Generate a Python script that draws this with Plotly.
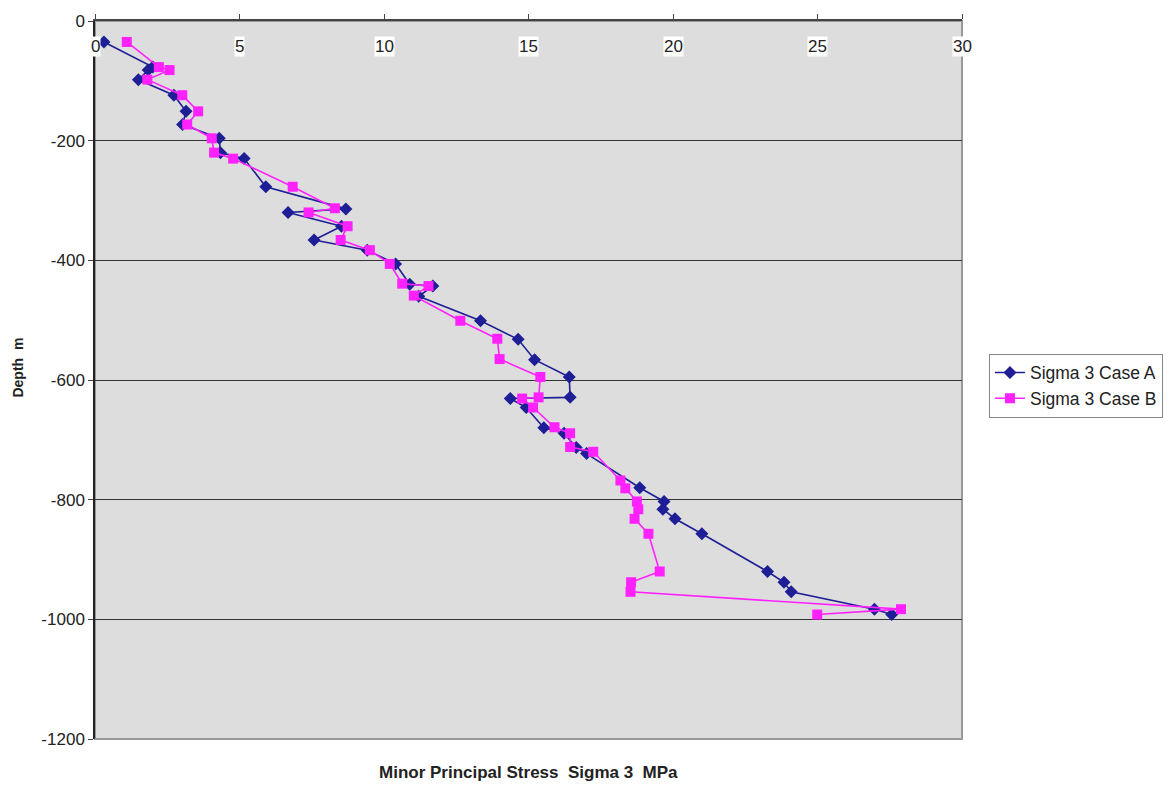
import plotly.graph_objects as go

# Minor principal stress profiles (MPa) against depth (m)
depth_a = [-35, -77, -82, -98, -124, -151, -173, -196, -220, -230, -277, -314, -320,
           -343, -366, -383, -406, -440, -443, -460, -501, -532, -566, -595, -629,
           -631, -646, -680, -689, -713, -723, -780, -803, -816, -832, -857, -920,
           -938, -954, -983, -992]
sigma3_a = [0.31, 2.0, 1.84, 1.50, 2.73, 3.15, 3.03, 4.30, 4.34, 5.16, 5.91, 8.68, 6.68,
            8.53, 7.58, 9.42, 10.40, 10.89, 11.69, 11.2, 13.34, 14.64, 15.21, 16.41, 16.44,
            14.37, 14.92, 15.53, 16.23, 16.65, 17.01, 18.85, 19.69, 19.65, 20.07, 21.0, 23.27,
            23.84, 24.09, 26.97, 27.57]

depth_b = [-35, -77, -82, -98, -124, -151, -173, -196, -220, -230, -277, -313, -320,
           -343, -366, -383, -406, -439, -443, -459, -501, -531, -565, -595, -629,
           -631, -646, -679, -689, -712, -720, -768, -781, -803, -816, -832, -857, -920,
           -938, -954, -983, -992]
sigma3_b = [1.10, 2.21, 2.58, 1.81, 3.02, 3.57, 3.19, 4.04, 4.12, 4.78, 6.84, 8.30, 7.39,
            8.74, 8.50, 9.51, 10.20, 10.63, 11.54, 11.03, 12.64, 13.92, 14.0, 15.41, 15.35,
            14.78, 15.16, 15.90, 16.44, 16.44, 17.24, 18.18, 18.35, 18.75, 18.80, 18.67, 19.15,
            19.54, 18.55, 18.53, 27.89, 24.99]

x_ticks = [0, 5, 10, 15, 20, 25, 30]
y_ticks = [0, -200, -400, -600, -800, -1000, -1200]

FONT = "Liberation Sans, Arial, sans-serif"

fig = go.Figure()
fig.add_trace(go.Scatter(
    x=sigma3_a, y=depth_a, mode="lines+markers", name="Sigma 3 Case A",
    line=dict(color="#1E1E96", width=1.6),
    marker=dict(symbol="diamond", size=10, color="#1E1E96"),
))
fig.add_trace(go.Scatter(
    x=sigma3_b, y=depth_b, mode="lines+markers", name="Sigma 3 Case B",
    line=dict(color="#FF22FF", width=1.6),
    marker=dict(symbol="square", size=10, color="#FF22FF"),
))

# grey frame on the right and bottom of the plotting area
fig.add_shape(type="rect", xref="x domain", yref="y domain", x0=0, x1=1, y0=0, y1=1,
              line=dict(color="#999999", width=2), layer="below")

# x tick labels sit just under the top axis, on white boxes
annotations = []
for t in x_ticks:
    annotations.append(dict(
        x=t, y=1, xref="x", yref="paper", yshift=-25, text=str(t), showarrow=False,
        font=dict(family=FONT, size=17, color="#222222"), bgcolor="white",
        xanchor="center", yanchor="middle", borderpad=0,
    ))
annotations.append(dict(
    x=0.5, y=0, xref="paper", yref="paper", yshift=-33,
    text="<b>Minor Principal Stress  Sigma 3  MPa</b>", showarrow=False,
    font=dict(family=FONT, size=17, color="#222222"), xanchor="center", yanchor="middle",
))
annotations.append(dict(
    x=0, y=1 - (366 - 18) / 721, xref="paper", yref="paper", xshift=-77,
    text="<b>Depth  m</b>", showarrow=False, textangle=-90,
    font=dict(family=FONT, size=14, color="#222222"), xanchor="center", yanchor="middle",
))

fig.update_layout(
    width=1175, height=785,
    margin=dict(l=95, r=212, t=18, b=46),
    paper_bgcolor="white", plot_bgcolor="#DDDDDD",
    font=dict(family=FONT, size=17, color="#222222"),
    showlegend=True,
    legend=dict(
        x=(990 - 95) / 868, y=1 - (352 - 18) / 721, xanchor="left", yanchor="top",
        bgcolor="white", bordercolor="#888888", borderwidth=1,
        font=dict(family=FONT, size=17.5, color="#222222"),
        tracegroupgap=0,
    ),
    annotations=annotations,
    xaxis=dict(
        side="top", range=[0, 30], tickvals=x_ticks, showticklabels=False,
        showgrid=False, zeroline=False, showline=True, linecolor="#444444", linewidth=2,
        ticks="outside", ticklen=5, tickcolor="#444444",
    ),
    yaxis=dict(
        range=[-1200, 0], tickvals=y_ticks, ticktext=[str(v) for v in y_ticks],
        showgrid=True, gridcolor="#333333", gridwidth=1, zeroline=False,
        showline=True, linecolor="#222222", linewidth=1.5,
        ticks="outside", ticklen=5, tickcolor="#444444",
        tickfont=dict(family=FONT, size=17, color="#222222"),
    ),
)

fig.write_html("out.html")
